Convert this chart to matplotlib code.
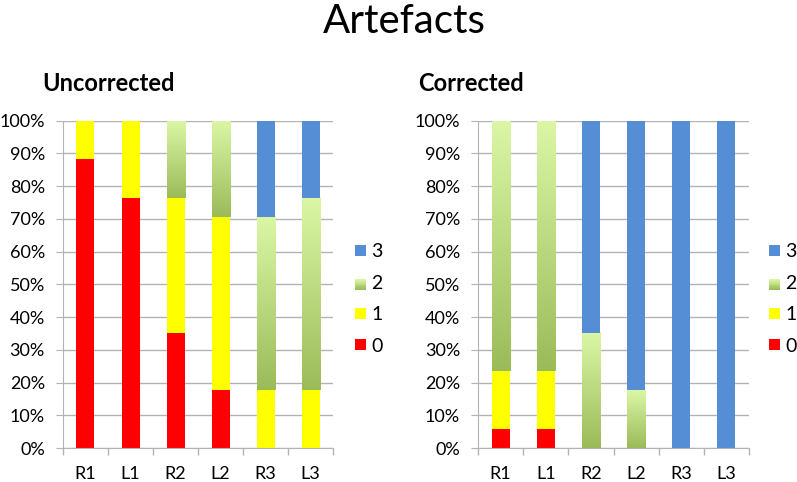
import numpy as np
import matplotlib
matplotlib.use("Agg")
import matplotlib.pyplot as plt
from matplotlib.patches import Rectangle
from matplotlib.legend_handler import HandlerBase
from matplotlib.colors import LinearSegmentedColormap

plt.rcParams['font.family'] = ['Lato', 'DejaVu Sans']

# Data (counts out of 17 cases per site)
sites = ['R1', 'L1', 'R2', 'L2', 'R3', 'L3']
grades = ['0', '1', '2', '3']
total = 17

uncorr_0 = [15, 13, 6, 3, 0, 0]
uncorr_1 = [2, 4, 7, 9, 3, 3]
uncorr_2 = [0, 0, 4, 5, 9, 10]
uncorr_3 = [0, 0, 0, 0, 5, 4]

corr_0 = [1, 1, 0, 0, 0, 0]
corr_1 = [3, 3, 0, 0, 0, 0]
corr_2 = [13, 13, 6, 3, 0, 0]
corr_3 = [0, 0, 11, 14, 17, 17]

RED = '#ff0000'
YELLOW = '#ffff00'
BLUE = '#558ed5'
GREEN_DARK = '#9bbb59'
GREEN_LIGHT = '#dbf7a6'
green_cmap = LinearSegmentedColormap.from_list('g', [GREEN_DARK, GREEN_LIGHT])
GRID = '#b3b3b3'


class GradientHandler(HandlerBase):
    def create_artists(self, legend, orig, xd, yd, width, height, fontsize, trans):
        arts = []
        n = 12
        for i in range(n):
            c = green_cmap(i / (n - 1))
            r = Rectangle((xd, yd + height * i / n), width, height / n + 0.2,
                          facecolor=c, edgecolor='none', transform=trans)
            arts.append(r)
        return arts


def draw_panel(ax, series, leg_x):
    x = np.arange(len(sites))
    w = 0.4
    bottom = np.zeros(len(sites))
    handles = []
    grad = np.linspace(0, 1, 256).reshape(-1, 1)
    for g, vals in zip(grades, series):
        pct = np.array(vals) / total * 100
        if g == '2':
            for xi, b, h in zip(x, bottom, pct):
                if h > 0:
                    ax.imshow(grad, cmap=green_cmap, origin='lower', aspect='auto',
                              extent=(xi - w / 2, xi + w / 2, b, b + h), zorder=2,
                              interpolation='bilinear')
            handles.append(Rectangle((0, 0), 1, 1, facecolor=GREEN_DARK))
        else:
            col = {'0': RED, '1': YELLOW, '3': BLUE}[g]
            bars = ax.bar(x, pct, w, bottom=bottom, color=col, zorder=2, linewidth=0)
            handles.append(bars)
        bottom = bottom + pct

    ax.set_xlim(-0.5, len(sites) - 0.5)
    ax.set_ylim(0, 100)
    ax.set_yticks(np.arange(0, 101, 10))
    ax.set_yticklabels([f'{v}%' for v in range(0, 101, 10)])
    ax.set_xticks(x)
    ax.set_xticklabels(sites)
    ax.set_xticks(np.arange(-0.5, len(sites), 1), minor=True)
    ax.tick_params(axis='x', which='major', length=0, pad=13, labelsize=13)
    ax.tick_params(axis='x', which='minor', length=5, color=GRID, width=1)
    ax.tick_params(axis='y', length=5, color=GRID, labelsize=13, pad=8)
    ax.yaxis.grid(True, color=GRID, linewidth=1, zorder=0)
    ax.set_axisbelow(True)
    for s in ['top', 'right']:
        ax.spines[s].set_visible(False)
    for s in ['left', 'bottom']:
        ax.spines[s].set_color(GRID)

    ax.legend(handles[::-1], grades[::-1], loc='center left',
              bbox_to_anchor=(leg_x, 0.3797), bbox_transform=fig.transFigure,
              frameon=False, fontsize=14, borderpad=0, borderaxespad=0,
              handlelength=0.57, handleheight=0.5, handletextpad=0.28,
              labelspacing=0.75,
              handler_map={handles[2]: GradientHandler()})


fig = plt.figure(figsize=(7.97, 4.82), dpi=100)
ax1 = fig.add_axes([0.079, 0.0705, 0.339, 0.679])
ax2 = fig.add_axes([0.5998, 0.0705, 0.34, 0.679])

draw_panel(ax1, [uncorr_0, uncorr_1, uncorr_2, uncorr_3], 0.4454)
draw_panel(ax2, [corr_0, corr_1, corr_2, corr_3], 0.9649)

fig.text(0.0527, 0.826, 'Uncorrected', fontsize=17, fontweight='bold', ha='left', va='center')
fig.text(0.5245, 0.826, 'Corrected', fontsize=17, fontweight='bold', ha='left', va='center')
fig.text(0.507, 0.955, 'Artefacts', fontsize=29, ha='center', va='center')

fig.savefig('out.png', dpi=100)
